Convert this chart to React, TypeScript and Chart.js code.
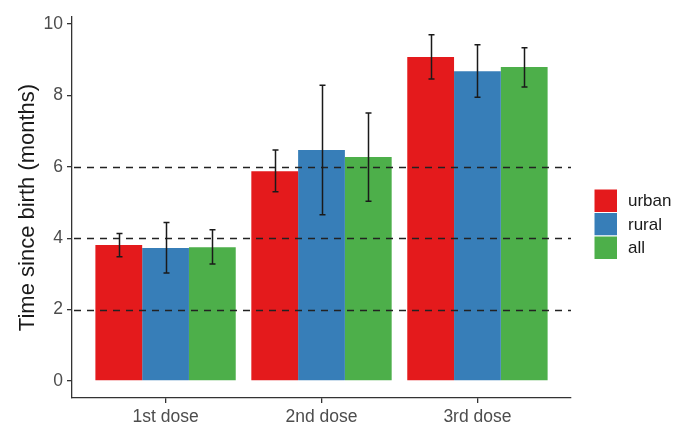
import React, { useEffect, useRef } from "react";
import { Chart, registerables } from "chart.js";

Chart.register(...registerables);

const categories = ["1st dose", "2nd dose", "3rd dose"];
const seriesNames = ["urban", "rural", "all"];
const seriesColors = ["#E41A1C", "#377EB8", "#4DAF4A"];
const urbanValues = [3.81, 5.88, 9.08];
const urbanLow = [3.48, 5.3, 8.46];
const urbanHigh = [4.13, 6.47, 9.7];
const ruralValues = [3.73, 6.47, 8.68];
const ruralLow = [3.03, 4.66, 7.95];
const ruralHigh = [4.44, 8.29, 9.42];
const allValues = [3.75, 6.28, 8.8];
const allLow = [3.28, 5.04, 8.24];
const allHigh = [4.24, 7.51, 9.34];
const refLines = [2, 4, 6];
const yTicks = [0, 2, 4, 6, 8, 10];

const values = [urbanValues, ruralValues, allValues];
const lows = [urbanLow, ruralLow, allLow];
const highs = [urbanHigh, ruralHigh, allHigh];

const FONT = "'Liberation Sans', Arial, sans-serif";

const overlayPlugin = {
  id: "overlay",
  afterDatasetsDraw(chart: any) {
    const ctx = chart.ctx;
    const ys = chart.scales.y;
    const area = chart.chartArea;
    ctx.save();
    ctx.strokeStyle = "#222222";
    ctx.lineWidth = 1.4;
    ctx.setLineDash([7, 6]);
    refLines.forEach((v) => {
      const py = Math.round(ys.getPixelForValue(v)) + 0.5;
      ctx.beginPath();
      ctx.moveTo(area.left + 2, py);
      ctx.lineTo(area.right, py);
      ctx.stroke();
    });
    ctx.setLineDash([]);
    ctx.lineWidth = 1.5;
    ctx.strokeStyle = "#1a1a1a";
    chart.data.datasets.forEach((_: any, di: number) => {
      const meta = chart.getDatasetMeta(di);
      meta.data.forEach((el: any, i: number) => {
        const x = Math.round(el.x) + 0.5;
        const y1 = ys.getPixelForValue(highs[di][i]);
        const y2 = ys.getPixelForValue(lows[di][i]);
        const hw = 3;
        ctx.beginPath();
        ctx.moveTo(x, y1);
        ctx.lineTo(x, y2);
        ctx.moveTo(x - hw, y1);
        ctx.lineTo(x + hw, y1);
        ctx.moveTo(x - hw, y2);
        ctx.lineTo(x + hw, y2);
        ctx.stroke();
      });
    });
    ctx.restore();
  },
  afterDraw(chart: any) {
    const ctx = chart.ctx;
    ctx.save();
    const bx = 594;
    const by = 189;
    const size = 23.5;
    ctx.font = `17px ${FONT}`;
    ctx.textBaseline = "middle";
    ctx.textAlign = "left";
    seriesNames.forEach((name, i) => {
      const y = by + i * size;
      ctx.fillStyle = seriesColors[i];
      ctx.fillRect(bx, y, size, size);
      ctx.strokeStyle = "#ffffff";
      ctx.lineWidth = 1;
      ctx.strokeRect(bx, y, size, size);
      ctx.fillStyle = "#1a1a1a";
      ctx.fillText(name, bx + 34, y + size / 2 + 1);
    });
    ctx.restore();
  },
};

export default function App() {
  const ref = useRef<HTMLCanvasElement>(null);
  useEffect(() => {
    if (!ref.current) return;
    const chart = new Chart(ref.current, {
      type: "bar",
      data: {
        datasets: seriesNames.map((name, di) => ({
          label: name,
          data: values[di].map((v, i) => ({ x: i + 1, y: v })),
          backgroundColor: seriesColors[di],
          borderWidth: 0,
          categoryPercentage: 0.9,
          barPercentage: 1.0,
        })),
      },
      plugins: [overlayPlugin],
      options: {
        animation: false,
        responsive: false,
        maintainAspectRatio: false,
        layout: { padding: { left: 0, top: 17, right: 106, bottom: 0 } },
        plugins: { legend: { display: false }, tooltip: { enabled: false } },
        scales: {
          x: {
            type: "linear",
            min: 0.4,
            max: 3.6,
            offset: false,
            afterBuildTicks: (s: any) => {
              s.ticks = categories.map((_, i) => ({ value: i + 1 }));
            },
            afterFit: (s: any) => {
              s.height = 26;
            },
            border: { display: true, color: "#333333", width: 1.3 },
            grid: { display: true, offset: false, drawOnChartArea: false, tickLength: 5, color: "#333333", lineWidth: 1.3 },
            ticks: {
              autoSkip: false,
              maxRotation: 0,
              padding: 4,
              color: "#4d4d4d",
              font: { family: FONT, size: 17.5 },
              callback: (v: any) => categories[Math.round(v) - 1] ?? "",
            },
          },
          y: {
            type: "linear",
            min: -0.476,
            max: 10.2,
            afterBuildTicks: (s: any) => {
              s.ticks = yTicks.map((v) => ({ value: v }));
            },
            afterFit: (s: any) => {
              s.width = 72;
            },
            border: { display: true, color: "#333333", width: 1.3 },
            grid: { display: true, drawOnChartArea: false, tickLength: 5, color: "#333333", lineWidth: 1.3 },
            ticks: {
              padding: 4,
              color: "#4d4d4d",
              font: { family: FONT, size: 17.5 },
            },
            title: {
              display: true,
              text: "Time since birth (months)",
              color: "#1a1a1a",
              font: { family: FONT, size: 22 },
              padding: { top: 15, bottom: 0 },
            },
          },
        },
      },
    } as any);
    return () => chart.destroy();
  }, []);
  return (
    <div style={{ position: "fixed", left: 0, top: 0, width: 677, height: 424, background: "#fff" }}>
      <canvas ref={ref} width={677} height={424} style={{ width: 677, height: 424 }} />
    </div>
  );
}
